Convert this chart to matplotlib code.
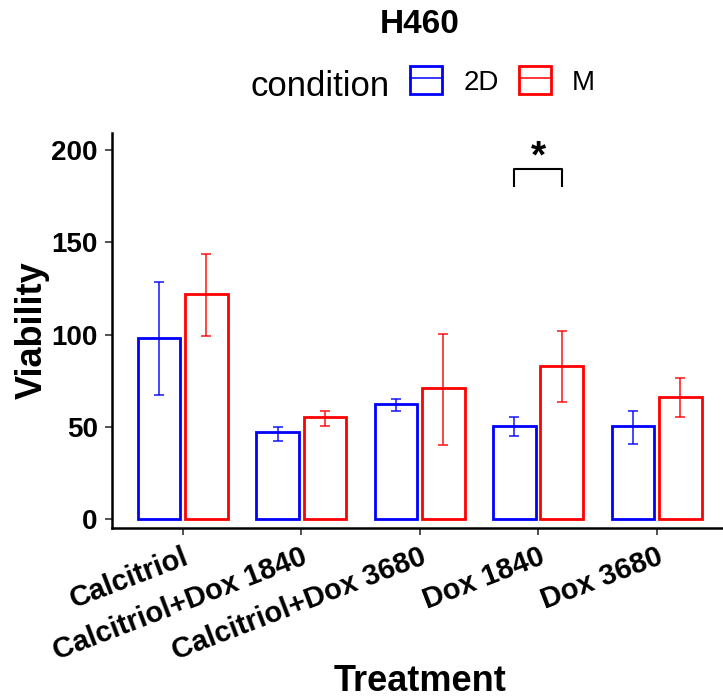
import numpy as np
import matplotlib
matplotlib.use("Agg")
import matplotlib.pyplot as plt
from matplotlib.patches import Patch
from matplotlib.lines import Line2D
from matplotlib.legend_handler import HandlerTuple

plt.rcParams['font.family'] = ['Liberation Sans', 'DejaVu Sans']

# Data
treatments = ["Calcitriol", "Calcitriol+Dox 1840", "Calcitriol+Dox 3680", "Dox 1840", "Dox 3680"]
conditions = ["2D", "M"]
colors = {"2D": "#0000FF", "M": "#FF0000"}

mean_2d = [98.3, 47.1, 62.3, 50.5, 50.5]
low_2d = [67.5, 42.6, 58.5, 45.1, 40.9]
high_2d = [128.4, 50.0, 65.3, 55.6, 58.7]

mean_m = [121.9, 55.2, 71.1, 83.2, 66.4]
low_m = [99.4, 50.7, 40.2, 63.4, 55.6]
high_m = [143.7, 58.7, 100.4, 101.8, 76.4]

# significance bracket (Dox 1840: 2D vs M)
sig_group = 3
sig_label = "*"
sig_y = [180.5, 189.7]
y_ticks = [0, 50, 100, 150, 200]

W, H = 723, 700
fig = plt.figure(figsize=(W / 100, H / 100), dpi=100)
ax = fig.add_axes([111.7 / W, (H - 527.5) / H, 615.9 / W, 394.8 / H])

x = np.arange(1, len(treatments) + 1)
offset = 0.2
width = 0.36
series = [("2D", mean_2d, low_2d, high_2d, -offset), ("M", mean_m, low_m, high_m, offset)]
for name, mean, low, high, off in series:
    mean = np.array(mean)
    yerr = [mean - np.array(low), np.array(high) - mean]
    ax.bar(x + off, mean, width, facecolor="none", edgecolor=colors[name], linewidth=2.0)
    ax.errorbar(x + off, mean, yerr=yerr, fmt="none", ecolor=colors[name],
                elinewidth=1.2, capsize=3.5, capthick=1.2, alpha=0.85)

# significance bracket
bx0 = x[sig_group] - offset
bx1 = x[sig_group] + offset
ax.plot([bx0, bx0, bx1, bx1], [sig_y[0], sig_y[1], sig_y[1], sig_y[0]], color="black", lw=1.5)
ax.text(x[sig_group], sig_y[1] - 3.5, sig_label, ha="center", va="bottom",
        fontsize=28, fontweight="bold")

ax.set_xlim(0.4, 5.6)
ax.set_ylim(-4.4, 209.4)
ax.set_yticks(y_ticks)
ax.set_yticklabels([str(t) for t in y_ticks], fontsize=20, fontweight="bold")
ax.set_xticks(x)
ax.set_xticklabels(treatments, fontsize=21, fontweight="bold", rotation=21,
                   ha="right", va="top", rotation_mode="anchor")
ax.tick_params(axis="both", length=5, width=1.2, color="#333333")
ax.tick_params(axis="y", pad=5)
ax.tick_params(axis="x", pad=6)

for s in ["top", "right"]:
    ax.spines[s].set_visible(False)
for s in ["left", "bottom"]:
    ax.spines[s].set_linewidth(1.8)
    ax.spines[s].set_color("black")

ax.set_ylabel("Viability", fontsize=26, fontweight="bold")
ax.yaxis.set_label_coords(-0.10, 0.5)
ax.set_xlabel("Treatment", fontsize=26, fontweight="bold", va="top")
ax.xaxis.set_label_coords(0.5, -0.346)

# title and legend
fig.text(419.7 / W, 1 - 33 / H, "H460", ha="center", va="baseline", fontsize=24, fontweight="bold")
fig.text(250 / W, 1 - 96 / H, "condition", ha="left", va="baseline", fontsize=25)
handles = [(Patch(facecolor="none", edgecolor=colors[c], linewidth=2.0),
            Line2D([], [], color=colors[c], lw=1.1)) for c in conditions]
fig.legend(handles, conditions, ncol=2, loc="center left",
           bbox_to_anchor=(410 / W, 1 - 81 / H), frameon=False, fontsize=20,
           handler_map={tuple: HandlerTuple(ndivide=1, pad=0)},
           handlelength=1.15, handleheight=1.15, handletextpad=0.77,
           columnspacing=0.72, borderpad=0, borderaxespad=0)

fig.savefig("out.png", dpi=100)
